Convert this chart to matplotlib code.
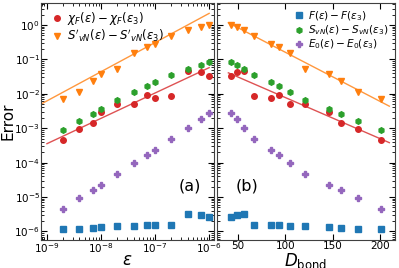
import numpy as np
import matplotlib
matplotlib.use("Agg")
import matplotlib.pyplot as plt

# ---- data ----
eps = [2e-9, 4e-9, 7e-9, 1e-8, 2e-8, 4e-8, 7e-8, 1e-7, 2e-7, 4e-7, 7e-7, 1e-6]
D_bond = [201, 177, 159, 146, 121, 105, 93, 85, 67, 56, 49, 43]

chiF = [4.5e-4, 9.8e-4, 1.4e-3, 2.9e-3, 4.9e-3, 5.0e-3, 9.0e-3, 7.8e-3, 8.9e-3, 4.7e-2, 4.3e-2, 3.3e-2]
SvN_p = [7e-3, 1.14e-2, 2.3e-2, 3.7e-2, 5.1e-2, 0.156, 0.233, 0.29, 0.49, 0.70, 0.87, 1.0]
F_err = [1.18e-6, 1.2e-6, 1.24e-6, 1.3e-6, 1.4e-6, 1.4e-6, 1.5e-6, 1.5e-6, 1.5e-6, 3.3e-6, 3.0e-6, 2.7e-6]
SvN = [9.1e-4, 1.62e-3, 2.66e-3, 3.6e-3, 6.5e-3, 1.14e-2, 1.74e-2, 2.2e-2, 3.5e-2, 5.1e-2, 6.8e-2, 8.3e-2]
E0 = [4.6e-6, 9.2e-6, 1.62e-5, 2.3e-5, 4.8e-5, 9.5e-5, 1.7e-4, 2.4e-4, 4.9e-4, 1.0e-3, 1.8e-3, 2.7e-3]

# fit lines (endpoints)
fitA_chi_x = [1e-9, 1e-6]
fitA_chi_y = [10**-3.45, 10**-1.24]
fitA_S_x = [10**-9.3, 1e-6]
fitA_S_y = [10**-2.46, 10**0.338]
fitB_x = [39.7, 210]
fitB_chi_y = [10**-1.39, 10**-3.42]
fitB_S_y = [10**0.067, 10**-2.36]

c_red = "#d62728"
c_org = "#ff7f0e"
c_grn = "#2ca02c"
c_blu = "#1f77b4"
c_pur = "#9467bd"

fig = plt.figure(figsize=(3.99, 2.68), dpi=100)
axA = fig.add_axes([41/399, 1-240/268, (214-41)/399, 237/268])
axB = fig.add_axes([217/399, 1-240/268, (395-217)/399, 237/268], sharey=axA)

ms = 4
leg_kw = dict(frameon=False, handletextpad=0.1, borderaxespad=0.3,
              labelspacing=0.05, handlelength=1.5, borderpad=0.3)
# panel (a)
axA.plot(fitA_chi_x, fitA_chi_y, color=c_red, lw=1, alpha=0.8)
axA.plot(fitA_S_x, fitA_S_y, color=c_org, lw=1, alpha=0.8)
axA.plot(eps, chiF, 'o', color=c_red, ms=ms, ls='none', label=r"$\chi_F(\varepsilon) - \chi_F(\varepsilon_3)$")
axA.plot(eps, SvN_p, 'v', color=c_org, ms=ms+0.5, ls='none', label=r"$S'_{vN}(\varepsilon) - S'_{vN}(\varepsilon_3)$")
axA.plot(eps, F_err, 's', color=c_blu, ms=ms, ls='none')
axA.plot(eps, SvN, 'h', color=c_grn, ms=ms, ls='none')
axA.plot(eps, E0, 'P', color=c_pur, ms=ms, ls='none')
axA.set_xscale('log')
axA.set_yscale('log')
axA.set_xlim(10**-9.11, 10**-5.91)
axA.set_ylim(10**-6.25, 10**0.64)
axA.set_xlabel(r"$\varepsilon$", fontsize=12)
axA.xaxis.set_label_coords(0.5, -0.045)
axA.set_ylabel("Error", fontsize=11)
axA.yaxis.set_label_coords(-0.146, 0.5)
axA.text(190/399, 1-186/268, "(a)", transform=fig.transFigure, fontsize=11.5, ha='center', va='center')
axA.legend(loc='upper left', fontsize=8.5, **leg_kw)

# panel (b)
axB.plot(fitB_x, fitB_chi_y, color=c_red, lw=1, alpha=0.8)
axB.plot(fitB_x, fitB_S_y, color=c_org, lw=1, alpha=0.8)
axB.plot(D_bond, chiF, 'o', color=c_red, ms=ms, ls='none')
axB.plot(D_bond, SvN_p, 'v', color=c_org, ms=ms+0.5, ls='none')
axB.plot(D_bond, F_err, 's', color=c_blu, ms=ms, ls='none', label=r"$F(\varepsilon) - F(\varepsilon_3)$")
axB.plot(D_bond, SvN, 'h', color=c_grn, ms=ms, ls='none', label=r"$S_{vN}(\varepsilon) - S_{vN}(\varepsilon_3)$")
axB.plot(D_bond, E0, 'P', color=c_pur, ms=ms, ls='none', label=r"$E_0(\varepsilon) - E_0(\varepsilon_3)$")
axB.set_xlim(27.7, 216)
axB.set_xticks([50, 100, 150, 200])
axB.set_xlabel(r"$D_{\rm bond}$", fontsize=12)
axB.xaxis.set_label_coords(0.5, -0.045)
axB.tick_params(labelleft=False)
axB.text(247/399, 1-186/268, "(b)", transform=fig.transFigure, fontsize=11.5, ha='center', va='center')
axB.legend(loc='upper right', fontsize=7.6, **leg_kw)

for ax in (axA, axB):
    ax.tick_params(which='both', direction='in', top=True, right=True, labelsize=7.5, pad=0.8)
    ax.tick_params(which='major', length=4)
    ax.tick_params(which='minor', length=2)
    for s in ax.spines.values():
        s.set_linewidth(0.8)
        s.set_color('0.25')

fig.savefig("out.png", dpi=100)
